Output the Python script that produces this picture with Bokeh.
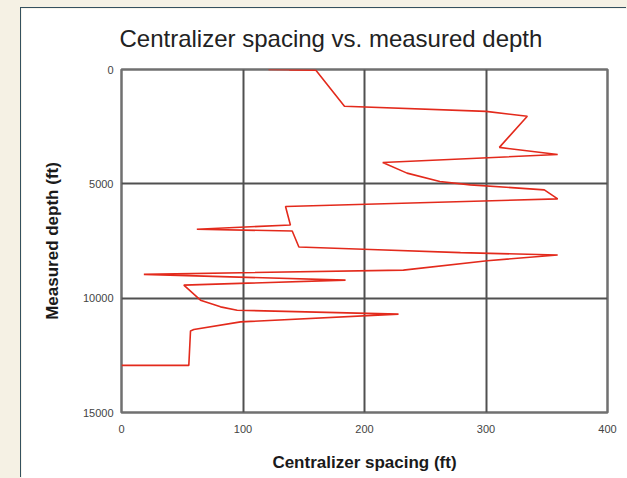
from jinja2 import Template
from bokeh.plotting import figure
from bokeh.models import Range1d, FixedTicker
from bokeh.embed import file_html
from bokeh.resources import INLINE
from bokeh.core.templates import FILE

# Centralizer spacing (ft) vs measured depth (ft)
spacing = [121, 160, 138, 160, 183.5, 300, 334, 311, 359, 215, 235, 262, 287,
           348, 359, 135, 139, 62, 140.5, 146, 205, 279, 359, 301, 232, 18.4,
           184.4, 51.3, 65, 81.5, 95.2, 228, 98, 59.5, 56.8, 55.4, 0]
depth = [0, 20, 15, 35, 1608, 1830, 2047, 3406, 3720, 4066, 4532, 4899, 5044,
         5263, 5658, 5994, 6798, 6988, 7061, 7760, 7870, 8010, 8114, 8364, 8772,
         8961, 9211, 9430, 10088, 10380, 10526, 10700, 11038, 11374, 11432,
         12939, 12939]

x_ticks = [0, 100, 200, 300, 400]
y_ticks = [0, 5000, 10000, 15000]
x_grid = [100, 200, 300]
y_grid = [5000, 10000]

title_text = "Centralizer spacing vs. measured depth"
FONT = "Liberation Sans"

p = figure(width=606, height=470,
           x_range=Range1d(0, 400), y_range=Range1d(15000, 0),
           output_backend="svg", toolbar_location=None,
           min_border_left=100, min_border_right=20,
           min_border_top=61, min_border_bottom=66,
           styles={"box-shadow": "-1px -1px 0 0 #34505e"})

p.title.text = title_text
p.title.text_font = FONT
p.title.text_font_size = "24px"
p.title.text_font_style = "normal"
p.title.text_color = "#222222"
p.title.align = "left"
p.title.vertical_align = "top"
p.title.offset = -2
p.title.standoff = 32

p.background_fill_color = "white"
p.border_fill_color = "white"
p.outline_line_color = "#707070"
p.outline_line_width = 2.5

p.xaxis.ticker = FixedTicker(ticks=x_ticks)
p.yaxis.ticker = FixedTicker(ticks=y_ticks)
p.xgrid.ticker = FixedTicker(ticks=x_grid)
p.ygrid.ticker = FixedTicker(ticks=y_grid)
for g in (p.xgrid, p.ygrid):
    g.grid_line_color = "#505050"
    g.grid_line_width = 2

for ax in (p.xaxis, p.yaxis):
    ax.axis_line_color = None
    ax.major_tick_line_color = None
    ax.minor_tick_line_color = None
    ax.major_tick_in = 0
    ax.major_tick_out = 0
    ax.major_label_text_font = FONT
    ax.major_label_text_font_size = "11px"
    ax.major_label_text_color = "#444444"
    ax.axis_label_text_font = FONT
    ax.axis_label_text_font_style = "bold"
    ax.axis_label_text_color = "#1a1a1a"

p.xaxis.axis_label = "Centralizer spacing (ft)"
p.xaxis.axis_label_text_font_size = "17px"
p.xaxis.major_label_standoff = 12
p.xaxis.axis_label_standoff = 17

p.yaxis.axis_label = "Measured depth (ft)"
p.yaxis.axis_label_text_font_size = "17px"
p.yaxis.major_label_standoff = 8
p.yaxis.axis_label_standoff = 18

p.line(spacing, depth, line_color="#e32a1c", line_width=1.6)

page = Template("""{% extends base %}
{% block preamble %}<style>
html, body { margin: 0 !important; padding: 0 !important; background: #f5f1e4 !important; overflow: hidden; }
body { padding: 8px 0 0 21px !important; }
</style>{% endblock %}""")

open("out.html", "w").write(file_html(p, INLINE, template=page,
                                       template_variables={"base": FILE}))
